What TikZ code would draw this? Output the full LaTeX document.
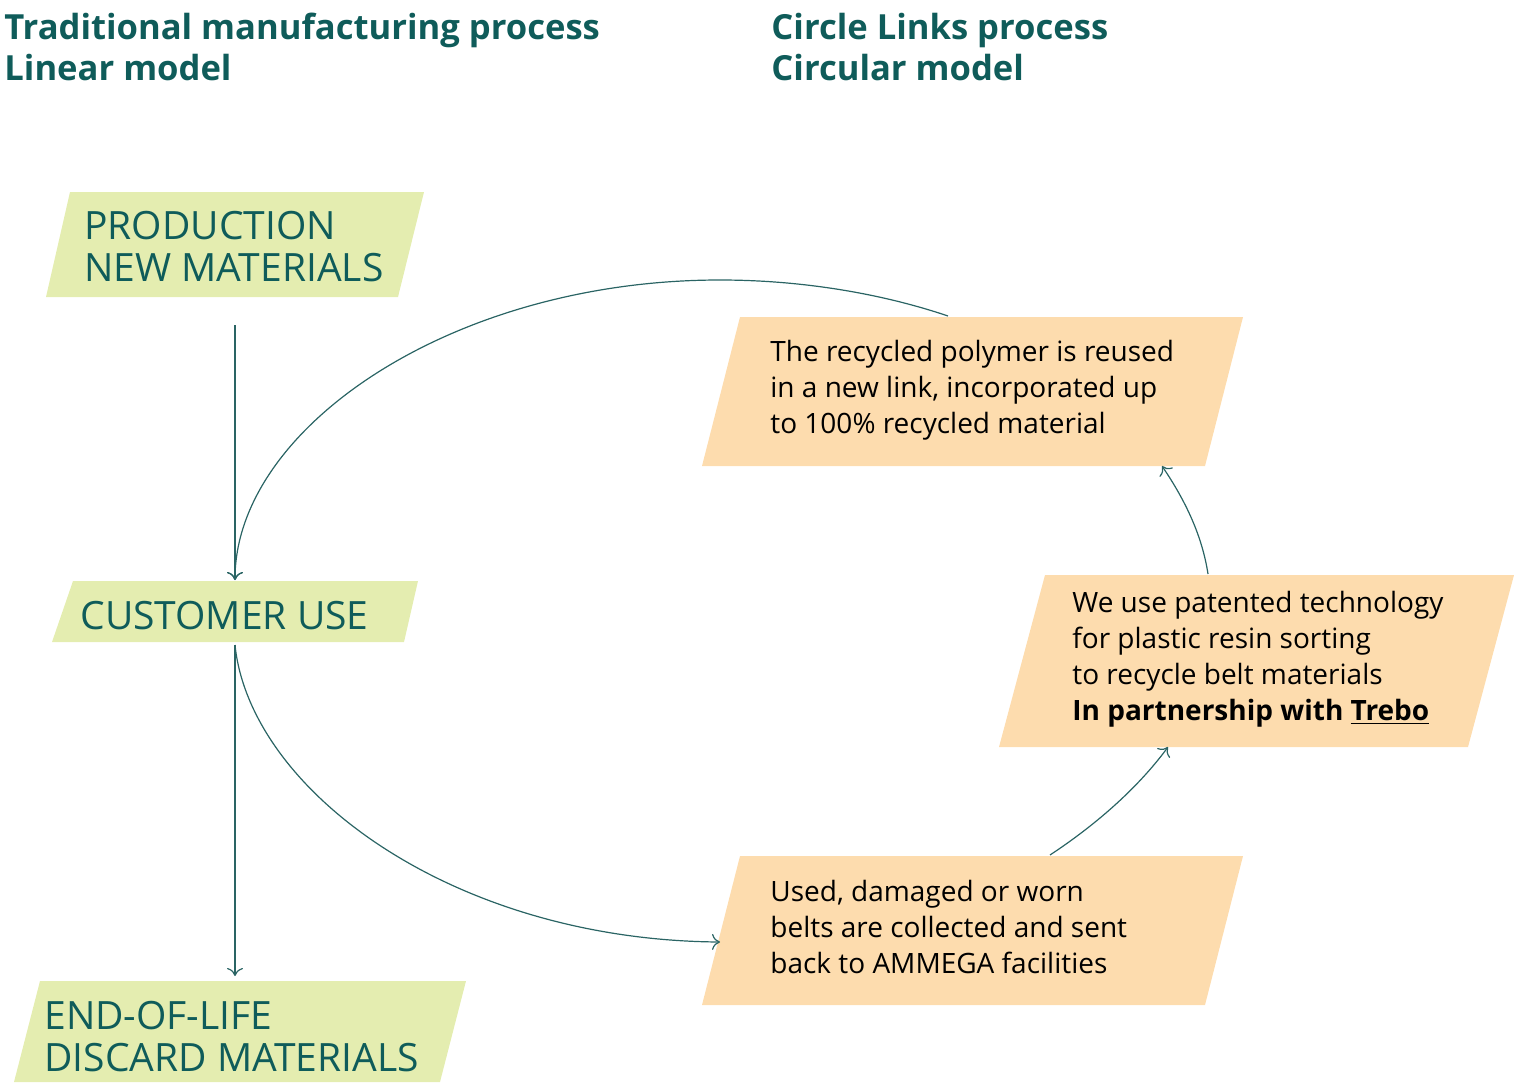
\documentclass[tikz,border=0pt]{standalone}
\usepackage{fontspec}
\setmainfont{Open Sans}
\usetikzlibrary{arrows.meta}
\definecolor{teal1}{HTML}{0F5C5A}
\definecolor{greenfill}{HTML}{E4EDB0}
\definecolor{orangefill}{HTML}{FDDCAE}
\definecolor{lineteal}{HTML}{2A6464}
\tikzset{
  title/.style={anchor=north west,align=left,text=teal1,font=\bfseries\fontsize{17.3}{20.5}\selectfont,inner sep=0pt},
  greentext/.style={anchor=west,align=left,text=teal1,font=\fontsize{19.5}{21}\selectfont,inner sep=0pt},
  orangetext/.style={anchor=west,align=left,text=black,font=\fontsize{14}{18}\selectfont,inner sep=0pt},
  flow/.style={lineteal,line width=0.6pt,-{To[length=4pt,width=8pt]}},
}
\begin{document}
\begin{tikzpicture}[x=0.5pt,y=-0.5pt]
	\useasboundingbox (0,0) rectangle (1514,1082);
	% titles
	\node[title] (tlin) at (4,13) {Traditional manufacturing process\\Linear model};
	\node[title] (tcirc) at (771,13) {Circle Links process\\Circular model};
	% green boxes
	\fill[greenfill] (70,192) -- (424,192) -- (398,297) -- (46,297) -- cycle;
	\fill[greenfill] (73,581) -- (418,581) -- (404,642) -- (52,642) -- cycle;
	\fill[greenfill] (40,981) -- (466,981) -- (440,1082) -- (14,1082) -- cycle;
	\node[greentext] (prod) at (84,247) {PRODUCTION\\NEW MATERIALS};
	\node[greentext] (use) at (80,616) {CUSTOMER USE};
	\node[greentext] (eol) at (44,1037) {END-OF-LIFE\\DISCARD MATERIALS};
	% orange boxes
	\fill[orangefill] (740,317) -- (1243,317) -- (1205,466) -- (702,466) -- cycle;
	\fill[orangefill] (1045,575) -- (1514,575) -- (1468,747) -- (999,747) -- cycle;
	\fill[orangefill] (740,856) -- (1243,856) -- (1205,1005) -- (702,1005) -- cycle;
	\node[orangetext] (reuse) at (770,390) {The recycled polymer is reused\\in a new link, incorporated up\\to 100\% recycled material};
	\node[orangetext] (sort) at (1072,659) {We use patented technology\\for plastic resin sorting\\to recycle belt materials\\\textbf{In partnership with \underline{Trebo}}};
	\node[orangetext] (collect) at (770,927) {Used, damaged or worn\\belts are collected and sent\\back to AMMEGA facilities};
	% anchor points
	\coordinate (prodB) at (235,325);
	\coordinate (useT) at (235,580);
	\coordinate (useB) at (235,645);
	\coordinate (eolT) at (235,976);
	\coordinate (reuseT) at (948,316);
	\coordinate (reuseB) at (1162,466);
	\coordinate (sortT) at (1208,574);
	\coordinate (sortB) at (1168,747);
	\coordinate (collectT) at (1050,855);
	\coordinate (collectL) at (720,942);
	% connectors
	\draw[flow] (prodB) -- (useT);
	\draw[flow] (useB) -- (eolT);
	\draw[flow] (reuseT) .. controls (880,293) and (800,280) .. (720,280) .. controls (452,280) and (235,428) .. (useT);
	\draw[flow] (useB) .. controls (250,790) and (452,940) .. (collectL);
	\draw[flow] (collectT) .. controls (1100,822) and (1140,785) .. (sortB);
	\draw[flow] (sortT) .. controls (1202,535) and (1185,500) .. (reuseB);
\end{tikzpicture}
\end{document}
